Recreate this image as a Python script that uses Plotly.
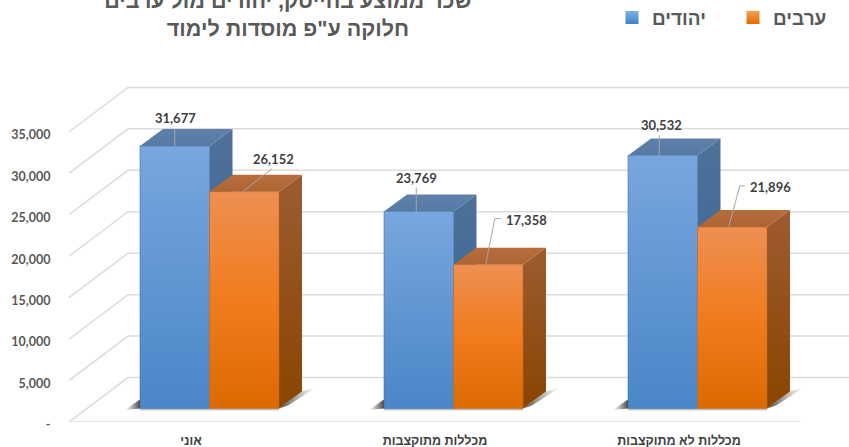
import plotly.graph_objects as go

categories = ["אוני", "מכללות מתוקצבות", "מכללות לא מתוקצבות"]
jews = [31677, 23769, 30532]
arabs = [26152, 17358, 21896]
tick_values = [0, 5000, 10000, 15000, 20000, 25000, 30000, 35000]
tick_labels = ["-", "5,000", "10,000", "15,000", "20,000", "25,000", "30,000", "35,000"]
series_names = ["יהודים", "ערבים"]
title_text = 'שכר ממוצע בהייטק, יהודים מול ערבים<br>חלוקה ע"פ מוסדות לימוד'

W, H = 849, 447
L, R, FLOOR = 69, 849, 422.5
PX_X = 1 / 244.0          # category units per pixel
PX_Y = 5000 / 41.5        # value units per pixel
Y_TOP = FLOOR * PX_Y
X_MAX = -0.5 + (R - L) * PX_X

# colours listed bottom -> top
STYLE = [
    dict(front=["#4A86C8", "#79A6DE"], side=["#2F5F94", "#4F7199"], top=["#567AA5", "#5E80A9"], edge="#3F75B0"),
    dict(front=["#DC6A00", "#F07C1E", "#EE8F52"], side=["#894500", "#9C5C31"], top=["#AD6433", "#B86D3C"], edge="#C4682A"),
]
LEG = [["#7DB4E8", "#3F80C4"], ["#F4A050", "#E26A00"]]

# pixel offsets of the drawn solid from the category centre on the floor
BAR_LEFT = [-51, 18.5]
BAR_W = 69.5
FRONT_DY = -13.5
DEPTH_DX, DEPTH_DY = 23, 17
WALL_DX, WALL_DY = 59, 44.5

# per bar, in pixels from the top-front-centre of the bar:
# (label dx, label dy, leader points)
LABEL_OFF = [
    [(0.5, -27.5, [(0, 0), (0, -17)]), (29.5, -32.5, [(-1.5, 0), (27.5, -23)])],
    [(-2.5, -34, [(-2.5, 0), (-2.5, -24)]), (38.5, -45, [(-2.5, 0), (6.5, -46), (12.5, -46)])],
    [(-1.5, -30.5, [(-3.5, 0), (-3.5, -20)]), (38.5, -40.5, [(-3.5, 0), (7.5, -41), (12.5, -41)])],
]


def gx(i, px):
    return i + px * PX_X


def gy(v, py):
    return v - py * PX_Y


def grad(colors, kind="vertical"):
    n = len(colors) - 1
    return dict(type=kind, colorscale=[[k / n, c] for k, c in enumerate(colors)])


fig = go.Figure()
GRID = "#DCDCDC"

# floor line
fig.add_trace(go.Scatter(x=[-0.5, 2.5], y=[0, 0], mode="lines", line=dict(color=GRID, width=1.5),
                         hoverinfo="skip", showlegend=False, cliponaxis=False))
# wall lines
for v in tick_values:
    fig.add_trace(go.Scatter(
        x=[-0.5, gx(-0.5, WALL_DX), gx(2.5, WALL_DX)],
        y=[v, gy(v, -WALL_DY), gy(v, -WALL_DY)],
        mode="lines", line=dict(color=GRID, width=1.5), hoverinfo="skip",
        showlegend=False, cliponaxis=False))


def poly(xs, ys, gradient, edge="rgba(0,0,0,0)"):
    fig.add_trace(go.Scatter(
        x=xs, y=ys, mode="lines", fill="toself", line=dict(width=0.6, color=edge),
        fillgradient=gradient, hoverinfo="skip", showlegend=False, cliponaxis=False))


# soft floor shadows
for i in range(len(categories)):
    l = BAR_LEFT[0]
    r = BAR_LEFT[1] + BAR_W
    base = FRONT_DY
    poly([gx(i, l), gx(i, l - 15), gx(i, l - 6), gx(i, l)],
         [gy(0, base), gy(0, base + 1.5), gy(0, base - 5), gy(0, base - 9)],
         grad(["rgba(110,110,110,0)", "rgba(70,70,70,1)"], "horizontal"))
    poly([gx(i, r), gx(i, r + DEPTH_DX), gx(i, r + DEPTH_DX + 14), gx(i, r + 9)],
         [gy(0, base), gy(0, base - DEPTH_DY), gy(0, base - DEPTH_DY - 4), gy(0, base - 3)],
         grad(["rgba(70,70,70,1)", "rgba(120,120,120,0)"], "horizontal"))
    poly([gx(i, l), gx(i, r), gx(i, r), gx(i, l)],
         [gy(0, base), gy(0, base), gy(0, base + 3), gy(0, base + 3)],
         grad(["rgba(170,170,170,0)", "rgba(130,130,130,0.8)"], "vertical"))

# bars: the value drives every face
for s, vals in enumerate([jews, arabs]):
    st = STYLE[s]
    for i, v in enumerate(vals):
        l = BAR_LEFT[s]
        r = l + BAR_W
        y0 = gy(0, FRONT_DY)
        yt = gy(v, FRONT_DY)
        yb = gy(0, FRONT_DY - DEPTH_DY)
        ybt = gy(v, FRONT_DY - DEPTH_DY)
        poly([gx(i, r), gx(i, r + DEPTH_DX), gx(i, r + DEPTH_DX), gx(i, r), gx(i, r)],
             [y0, yb, ybt, yt, y0], grad(st["side"]))
        poly([gx(i, l), gx(i, r), gx(i, r + DEPTH_DX), gx(i, l + DEPTH_DX), gx(i, l)],
             [yt, yt, ybt, ybt, yt], grad(st["top"]))
        poly([gx(i, l), gx(i, r), gx(i, r), gx(i, l), gx(i, l)],
             [y0, y0, yt, yt, y0], grad(st["front"]), edge=st["edge"])

# data labels and leader lines
annotations = []
for s, vals in enumerate([jews, arabs]):
    for i, v in enumerate(vals):
        dx, dy, pts = LABEL_OFF[i][s]
        cx = BAR_LEFT[s] + BAR_W / 2
        fig.add_trace(go.Scatter(
            x=[gx(i, cx + p[0]) for p in pts],
            y=[gy(v, FRONT_DY + p[1]) for p in pts],
            mode="lines", line=dict(color="#A6A6A6", width=1), hoverinfo="skip",
            showlegend=False, cliponaxis=False))
        annotations.append(dict(
            x=gx(i, cx + dx), y=gy(v, FRONT_DY + dy), text=f"{v:,}", showarrow=False,
            font=dict(family="Lato, Liberation Sans", size=13, color="#404040", weight="bold"),
            xanchor="center", yanchor="middle"))

# legend entries, one legend box per series
for k, (name, g) in enumerate(zip(series_names, LEG)):
    fig.add_trace(go.Scatter(
        x=[None], y=[None], mode="markers", name=name, legend="legend" if k == 0 else "legend2",
        marker=dict(symbol="square", size=13, color=g[0],
                    gradient=dict(type="vertical", color=g[1]),
                    line=dict(width=0))))

legend_font = dict(family="Liberation Sans", size=19, color="#595959", weight="bold")


def legend_at(px):
    return dict(x=(px - L) / (R - L), xanchor="left", y=1.003, yanchor="top",
                font=legend_font, bgcolor="rgba(0,0,0,0)")


fig.update_layout(
    width=W, height=H,
    margin=dict(l=L, r=W - R, t=0, b=H - FLOOR, pad=0, autoexpand=False),
    paper_bgcolor="white", plot_bgcolor="white",
    title=dict(text=title_text, x=288 / W, xanchor="center", y=1 - 8 / H, yanchor="middle",
               font=dict(family="Liberation Sans", size=21.5, color="#595959", weight="bold")),
    annotations=annotations,
    showlegend=True,
    legend=legend_at(612),
    legend2=legend_at(733),
    xaxis=dict(range=[-0.5, X_MAX], tickmode="array", tickvals=list(range(len(categories))),
               ticktext=categories, showgrid=False, zeroline=False, showline=False,
               ticks="outside", ticklen=7, tickcolor="rgba(0,0,0,0)",
               tickfont=dict(family="Liberation Sans", size=12.5, color="#404040", weight="bold")),
    yaxis=dict(range=[0, Y_TOP], tickmode="array", tickvals=tick_values, ticktext=tick_labels,
               showgrid=False, zeroline=False, showline=False,
               ticks="outside", ticklen=15, tickcolor="rgba(0,0,0,0)", ticklabelshift=3,
               tickfont=dict(family="Lato, Liberation Sans", size=12.5, color="#595959", weight="bold")),
)

fig.write_html("out.html", config=dict(displayModeBar=False),
               post_script="document.body.style.margin='0';document.documentElement.style.overflow='hidden';")
